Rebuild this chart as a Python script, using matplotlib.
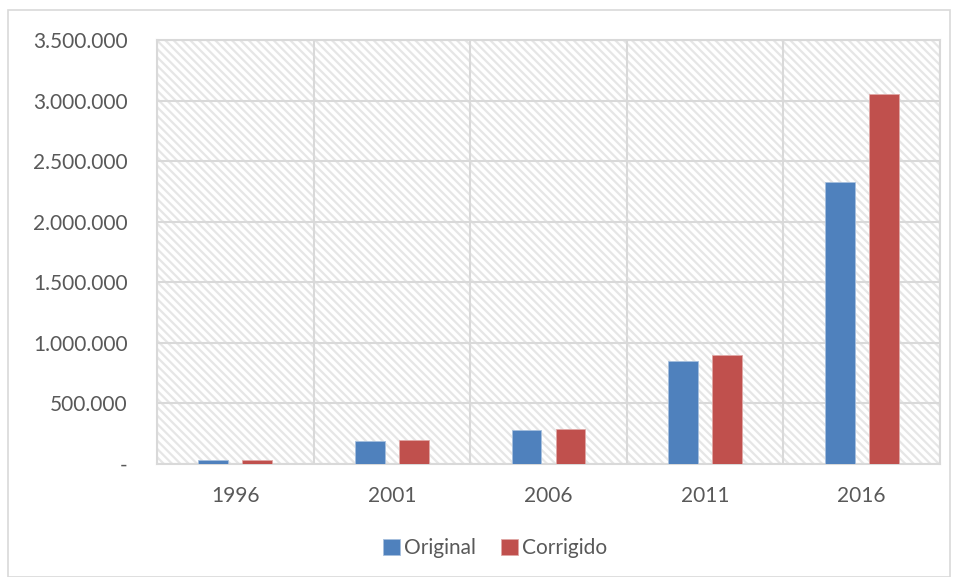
import matplotlib
matplotlib.use("Agg")
import matplotlib.pyplot as plt
from matplotlib.patches import Rectangle
import numpy as np

plt.rcParams['font.family'] = ['Lato', 'DejaVu Sans']

years = ["1996", "2001", "2006", "2011", "2016"]
original = [30000, 190000, 281000, 852000, 2328000]
corrigido = [32000, 198000, 289000, 898000, 3054000]
yticks = [0, 500000, 1000000, 1500000, 2000000, 2500000, 3000000, 3500000]
ytick_labels = ["-", "500.000", "1.000.000", "1.500.000", "2.000.000",
                "2.500.000", "3.000.000", "3.500.000"]

W, H = 959, 577
fig = plt.figure(figsize=(W / 100, H / 100), dpi=100)
ax = fig.add_axes([157 / W, 1 - 464 / H, (940 - 157) / W, (464 - 40) / H])

# outer chart border
fig.patches.append(Rectangle((8 / W, 0.0), (950 - 8) / W, 1 - 10 / H - 0.0,
                             transform=fig.transFigure, fill=False,
                             edgecolor='#d9d9d9', linewidth=1.2))

plt.rcParams['hatch.color'] = '#e6e6e6'
plt.rcParams['hatch.linewidth'] = 1.6
bg = Rectangle((0, 0), 1, 1, transform=ax.transAxes, facecolor='white',
               edgecolor='#e6e6e6', linewidth=0, hatch='\\\\\\\\', zorder=0)
ax.add_patch(bg)

x = np.arange(len(years))
bw = 0.19
off = 0.14
ax.bar(x - off, original, bw, color='#4f81bd', edgecolor='#a7c0de', linewidth=0.6,
       label='Original', zorder=3)
ax.bar(x + off, corrigido, bw, color='#c0504d', edgecolor='#e0a8a6', linewidth=0.6,
       label='Corrigido', zorder=3)

ax.set_xlim(-0.5, len(years) - 0.5)
ax.set_ylim(0, 3500000)
ax.set_yticks(yticks)
ax.set_yticklabels(ytick_labels)
ax.set_xticks(x)
ax.set_xticklabels(years)
for xb in np.arange(-0.5, len(years), 1.0):
    ax.axvline(xb, color='#d9d9d9', linewidth=1.5, zorder=1)
for yv in yticks:
    ax.axhline(yv, color='#d9d9d9', linewidth=1.5, zorder=1)
for s in ax.spines.values():
    s.set_color('#d9d9d9')
    s.set_linewidth(1.5)
ax.tick_params(axis='both', length=0, colors='#595959', labelsize=15)
ax.tick_params(axis='y', pad=21)
ax.tick_params(axis='x', pad=16)

leg = fig.legend(loc='center', bbox_to_anchor=(495 / W, 1 - 548 / H), ncol=2,
                 frameon=False, fontsize=15, handlelength=0.8, handleheight=0.8,
                 handletextpad=0.2, columnspacing=1.2)
for t in leg.get_texts():
    t.set_color('#595959')

fig.savefig('out.png', dpi=100)
